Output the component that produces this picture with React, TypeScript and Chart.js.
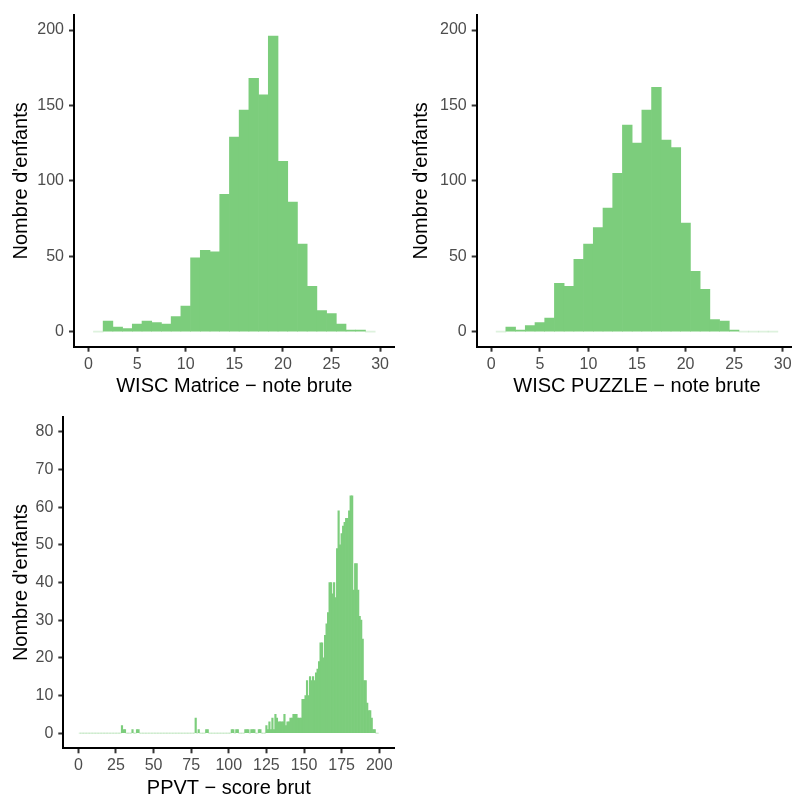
import React, { useEffect, useRef } from "react";
import { Chart, registerables } from "chart.js";

Chart.register(...registerables);

const FONT = "'Liberation Sans', Arial, Helvetica, sans-serif";
const FILL = "#7CCD7C";
const ZERO_FILL = "rgba(124,205,124,0.25)";

// ---- WISC histograms (bins centred on integer scores 1..29) ----
const wiscBins = [1, 2, 3, 4, 5, 6, 7, 8, 9, 10, 11, 12, 13, 14, 15, 16, 17, 18, 19, 20, 21, 22, 23, 24, 25, 26, 27, 28, 29];
const matriceCounts = [0, 7, 3, 2, 5, 7, 6, 5, 10, 17, 49, 54, 53, 91, 129, 147, 168, 157, 196, 113, 86, 58, 30, 14, 12, 5, 1, 1, 0];
const puzzleCounts = [0, 3, 1, 4, 6, 9, 32, 30, 48, 58, 69, 82, 105, 137, 125, 147, 162, 127, 122, 72, 40, 28, 8, 7, 1, 0, 0, 0, 0];
const wiscXTicks = [0, 5, 10, 15, 20, 25, 30];
const wiscYTicks = [0, 50, 100, 150, 200];

// ---- PPVT histogram (bins of width 1, scores 1..199; only non-empty bins listed) ----
const ppvtFirstBin = 1;
const ppvtLastBin = 199;
const ppvtScores = [
  29, 30, 31, 36, 39, 40, 78, 80, 85, 86, 102, 103, 105, 106, 111, 112, 113, 115, 116, 117, 120, 121,
  125, 126, 127, 128, 129, 130, 131, 132, 133, 134, 135, 136, 137, 138, 139, 140, 141, 142, 143, 144,
  145, 146, 147, 148, 149, 150, 151, 152, 153, 154, 155, 156, 157, 158, 159, 160, 161, 162, 163, 164,
  165, 166, 167, 168, 169, 170, 171, 172, 173, 174, 175, 176, 177, 178, 179, 180, 181, 182, 183, 184,
  185, 186, 187, 188, 189, 190, 191, 192, 193, 194, 195, 196, 197,
];
const ppvtCounts = [
  2, 1, 1, 1, 1, 1, 4, 1, 1, 1, 1, 1, 1, 1, 1, 1, 1, 1, 1, 1, 1, 1,
  2, 1, 3, 1, 4, 1, 5, 4, 3, 3, 3, 3, 5, 2, 3, 3, 4, 4, 5, 5,
  5, 4, 4, 4, 9, 9, 10, 14, 10, 15, 14, 15, 14, 16, 17, 19, 24, 24, 20, 26,
  29, 32, 40, 40, 37, 40, 36, 49, 59, 50, 53, 55, 56, 57, 57, 59, 63, 63, 38, 45,
  45, 38, 31, 30, 25, 14, 14, 8, 6, 6, 4, 1, 1,
];
const ppvtXTicks = [0, 25, 50, 75, 100, 125, 150, 175, 200];
const ppvtYTicks = [0, 10, 20, 30, 40, 50, 60, 70, 80];

const yTitle = "Nombre d'enfants";

function ppvtTable() {
  const bins: number[] = [];
  const counts: number[] = [];
  for (let b = ppvtFirstBin; b <= ppvtLastBin; b++) {
    bins.push(b);
    const i = ppvtScores.indexOf(b);
    counts.push(i >= 0 ? ppvtCounts[i] : 0);
  }
  return { bins, counts };
}

type HistProps = {
  left: number;
  top: number;
  width: number;
  height: number;
  yAxisWidth: number;
  xAxisHeight: number;
  padTop: number;
  padRight: number;
  bins: number[];
  counts: number[];
  xMin: number;
  xMax: number;
  yMin: number;
  yMax: number;
  xTicks: number[];
  yTicks: number[];
  xTitle: string;
  xTitlePad: number;
  yTitlePad: number;
};

function Histogram(p: HistProps) {
  const ref = useRef<HTMLCanvasElement>(null);
  useEffect(() => {
    const tickFont = { family: FONT, size: 16 };
    const titleFont = { family: FONT, size: 20 };
    const grid = {
      display: true,
      drawOnChartArea: false,
      drawTicks: true,
      tickLength: 5,
      tickWidth: 2,
      tickColor: "#333333",
      color: "rgba(0,0,0,0)",
      offset: false,
    };
    const border = { display: true, color: "#000000", width: 2 };
    const chart = new Chart(ref.current as HTMLCanvasElement, {
      type: "bar",
      data: {
        datasets: [
          {
            data: p.bins.map((b, i) => ({ x: b, y: p.counts[i] })),
            backgroundColor: (ctx: any) => (ctx.raw && ctx.raw.y === 0 ? ZERO_FILL : FILL),
            borderWidth: 0,
            barPercentage: 1,
            categoryPercentage: 1,
            minBarLength: 1,
          } as any,
        ],
      },
      options: {
        responsive: false,
        maintainAspectRatio: false,
        animation: false,
        events: [],
        layout: { padding: { top: p.padTop, right: p.padRight, left: 0, bottom: 0 } },
        plugins: { legend: { display: false }, tooltip: { enabled: false }, title: { display: false } },
        scales: {
          x: {
            type: "linear",
            min: p.xMin,
            max: p.xMax,
            offset: false,
            grid: grid as any,
            border: border as any,
            afterBuildTicks: (a: any) => {
              a.ticks = p.xTicks.map((v) => ({ value: v }));
            },
            afterFit: (s: any) => {
              s.height = p.xAxisHeight;
            },
            ticks: {
              autoSkip: false,
              maxRotation: 0,
              padding: 3,
              color: "#4D4D4D",
              font: tickFont,
              callback: (v: any) => String(v),
            },
            title: {
              display: true,
              text: p.xTitle,
              color: "#000000",
              font: titleFont,
              padding: { top: 0, bottom: p.xTitlePad },
            },
          },
          y: {
            type: "linear",
            min: p.yMin,
            max: p.yMax,
            grid: grid as any,
            border: border as any,
            afterBuildTicks: (a: any) => {
              a.ticks = p.yTicks.map((v) => ({ value: v }));
            },
            afterFit: (s: any) => {
              s.width = p.yAxisWidth;
            },
            ticks: {
              autoSkip: false,
              padding: 5,
              color: "#4D4D4D",
              font: tickFont,
              callback: (v: any) => String(v),
            },
            title: {
              display: true,
              text: yTitle,
              color: "#000000",
              font: titleFont,
              padding: { top: p.yTitlePad, bottom: 0 },
            },
          },
        },
      } as any,
    });
    return () => chart.destroy();
  }, []);
  return (
    <canvas
      ref={ref}
      width={p.width}
      height={p.height}
      style={{ position: "absolute", left: p.left, top: p.top, width: p.width, height: p.height }}
    />
  );
}

export default function App() {
  const ppvt = ppvtTable();
  return (
    <div
      style={{
        position: "absolute",
        left: 0,
        top: 0,
        width: 792,
        height: 796,
        overflow: "hidden",
        background: "#ffffff",
      }}
    >
      <Histogram
        left={0}
        top={0}
        width={400}
        height={400}
        yAxisWidth={74}
        xAxisHeight={53.3}
        padTop={15}
        padRight={5.4}
        bins={wiscBins}
        counts={matriceCounts}
        xMin={-1.5}
        xMax={31.5}
        yMin={-10}
        yMax={210}
        xTicks={wiscXTicks}
        yTicks={wiscYTicks}
        xTitle="WISC Matrice − note brute"
        xTitlePad={1.8}
        yTitlePad={9.4}
      />
      <Histogram
        left={400}
        top={0}
        width={403}
        height={400}
        yAxisWidth={76.7}
        xAxisHeight={53.3}
        padTop={15}
        padRight={5.7}
        bins={wiscBins}
        counts={puzzleCounts}
        xMin={-1.5}
        xMax={31.5}
        yMin={-10}
        yMax={210}
        xTicks={wiscXTicks}
        yTicks={wiscYTicks}
        xTitle="WISC PUZZLE − note brute"
        xTitlePad={1.8}
        yTitlePad={9.4}
      />
      <Histogram
        left={0}
        top={400}
        width={400}
        height={400}
        yAxisWidth={63.3}
        xAxisHeight={51.7}
        padTop={16.7}
        padRight={5.7}
        bins={ppvt.bins}
        counts={ppvt.counts}
        xMin={-10}
        xMax={210}
        yMin={-4}
        yMax={84}
        xTicks={ppvtXTicks}
        yTicks={ppvtYTicks}
        xTitle="PPVT − score brut"
        xTitlePad={0}
        yTitlePad={9.4}
      />
    </div>
  );
}
